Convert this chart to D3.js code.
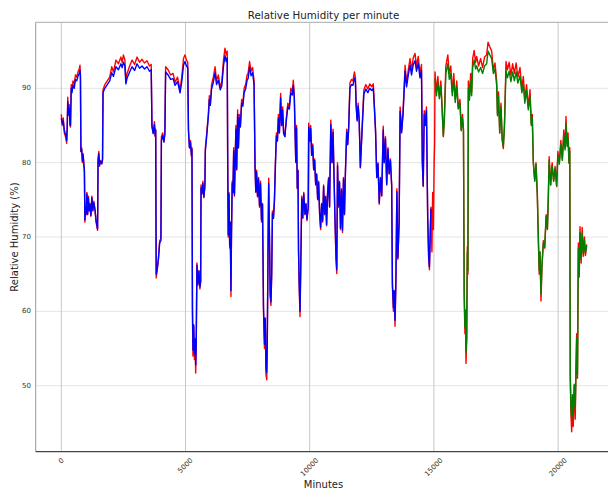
<!DOCTYPE html>
<html>
<head>
<meta charset="utf-8">
<script src="https://cdn.jsdelivr.net/npm/d3@7"></script>
<style>
  html, body { margin: 0; padding: 0; background: #fff; }
  svg { display: block; font-family: "DejaVu Sans", sans-serif; }
</style>
</head>
<body>
<svg id="chart" width="608" height="489"></svg>
<script>
// Sample times (minutes) shared by the measured and predicted series
const minute = [
  0,40,80,120,170,217,240,260,290,320,350,370,400,430,470,520,570,620,680,720,753,770,790,820,850,880,910,930,950,980,
  1000,1030,1060,1090,1120,1150,1190,1230,1270,1310,1360,1400,1460,1480,1510,1540,1580,1630,1660,1680,1750,1850,1950,2030,2100,2200,2300,2400,2450,2500,
  2560,2600,2650,2750,2850,2950,3050,3150,3250,3350,3450,3550,3620,3650,3700,3750,3780,3800,3820,3860,3910,3960,4010,4030,4080,4130,4170,4200,4300,4400,
  4500,4580,4680,4780,4850,4920,4980,5040,5090,5120,5160,5200,5240,5260,5280,5300,5330,5360,5390,5410,5430,5460,5500,5540,5580,5610,5625,5660,5700,5740,
  5780,5800,5850,5920,5960,6000,6050,6120,6190,6250,6320,6400,6460,6530,6590,6640,6680,6700,6720,6750,6780,6800,6830,6850,6880,6910,6940,6970,7000,7030,
  7060,7100,7130,7170,7210,7260,7310,7360,7420,7480,7520,7580,7640,7700,7760,7800,7830,7860,7900,7940,7980,8020,8060,8100,8140,8180,8210,8240,8270,8290,
  8330,8350,8380,8410,8440,8470,8500,8540,8580,8620,8660,8700,8740,8780,8830,8870,8910,8950,9000,9060,9120,9180,9240,9300,9340,9380,9410,9440,9470,9500,
  9530,9550,9580,9610,9640,9680,9720,9760,9810,9850,9890,9940,9960,10000,10040,10080,10120,10160,10200,10240,10280,10320,10360,10400,10440,10480,10520,10560,10600,10640,
  10680,10720,10760,10800,10850,10900,10940,10980,11020,11060,11090,11120,11160,11200,11240,11280,11320,11360,11400,11440,11490,11530,11570,11620,11680,11740,11800,11840,11870,11910,
  11950,11990,12040,12100,12180,12260,12340,12420,12500,12560,12600,12650,12700,12750,12800,12850,12900,12960,13000,13050,13100,13150,13200,13250,13300,13330,13370,13400,13435,13470,
  13510,13550,13600,13640,13700,13760,13840,13900,13970,14040,14100,14170,14240,14300,14370,14440,14500,14535,14570,14610,14650,14700,14750,14790,14820,14850,14880,14920,14950,14980,
  15010,15030,15045,15100,15160,15220,15280,15330,15380,15420,15480,15560,15620,15680,15740,15800,15860,15920,15980,16050,16100,16150,16190,16220,16250,16270,16292,16320,16346,16370,
  16386,16430,16480,16520,16561,16620,16680,16722,16800,16880,16960,17040,17124,17180,17250,17326,17393,17460,17527,17560,17600,17650,17700,17750,17795,17840,17903,17960,18030,18100,
  18170,18240,18310,18380,18466,18540,18600,18660,18730,18800,18869,18920,18960,19003,19060,19110,19164,19205,19240,19270,19312,19350,19406,19460,19520,19570,19607,19640,19700,19760,
  19820,19880,19942,19990,20050,20110,20170,20230,20280,20318,20360,20400,20440,20470,20490,20520,20546,20580,20610,20650,20690,20720,20748,20780,20815,20850,20882,20930,20970,21016,
  21060,21100,21150
];

// Measured relative humidity (%)
const actual = [
  86.5,85.0,86.0,84.0,83.5,82.6,85.0,88.8,86.5,87.8,85.0,84.8,90.5,89.8,91.0,90.5,91.8,91.5,92.3,92.6,93.1,92.0,81.5,82.0,80.0,81.2,79.5,78.8,72.0,74.0,
  73.0,76.0,73.0,75.5,73.5,74.5,72.8,75.5,73.5,74.8,73.5,72.0,70.9,80.5,81.5,79.5,80.3,79.8,80.5,89.8,90.5,91.0,91.5,92.9,92.2,93.8,93.3,94.2,93.5,94.5,
  93.8,91.0,92.0,93.0,93.8,93.2,94.2,93.5,93.9,93.4,93.7,93.0,93.2,85.0,84.0,85.5,83.5,84.5,64.5,65.5,67.0,69.5,69.8,83.5,84.0,82.8,84.2,92.9,92.5,91.8,
  92.0,90.8,91.5,89.8,91.5,94.0,94.5,93.8,93.5,84.5,82.0,83.0,80.8,82.0,60.0,54.0,58.0,53.5,56.0,51.7,55.0,66.5,63.5,65.5,63.0,64.0,77.0,75.8,77.5,75.3,
  77.0,82.0,83.8,86.5,89.0,88.0,90.5,91.5,92.9,91.0,91.8,90.2,90.8,93.8,95.4,94.5,95.0,79.5,70.0,76.0,68.5,72.0,62.0,70.0,77.5,76.0,82.0,75.5,80.5,85.0,
  79.0,87.1,82.0,86.5,85.0,88.5,88.0,90.0,90.5,91.8,92.0,93.6,92.3,92.8,91.0,79.5,76.0,79.0,75.4,78.0,74.0,77.5,72.0,74.5,60.0,55.0,59.0,51.5,50.8,55.0,
  71.5,77.9,70.0,62.0,60.8,65.0,73.5,72.5,75.0,80.0,84.0,83.0,86.5,84.0,89.3,85.0,87.5,84.0,83.5,86.0,88.0,87.5,90.0,89.5,91.1,89.0,84.5,80.0,85.0,76.5,
  79.0,68.0,63.0,59.3,66.0,75.5,72.5,76.0,73.0,74.5,72.2,74.0,85.3,83.0,85.0,81.0,82.5,79.0,80.5,77.0,78.5,75.0,77.5,73.0,71.0,74.5,72.0,77.0,73.0,75.5,
  71.5,76.0,78.0,74.0,85.7,80.0,84.5,78.0,72.0,67.0,65.1,80.0,74.0,77.5,71.0,76.5,70.6,78.0,73.0,79.0,84.5,82.5,85.0,90.7,91.2,91.0,92.2,91.5,87.9,85.8,
  88.0,86.0,79.3,84.0,89.8,90.5,89.9,90.6,90.2,90.6,87.9,84.5,78.0,80.0,74.4,78.0,75.5,84.9,80.0,83.5,77.0,82.0,78.5,80.5,76.9,63.3,60.0,62.5,58.0,64.0,
  76.5,67.0,72.0,87.5,84.2,87.0,93.1,90.7,92.5,94.0,92.5,94.1,94.7,93.0,94.3,92.0,93.2,80.0,76.8,87.0,85.3,87.5,72.7,67.0,65.6,70.0,74.0,68.0,76.0,71.0,
  80.0,82.6,92.2,89.5,91.6,88.9,91.0,87.5,83.5,86.0,93.0,94.5,92.0,93.0,89.5,92.0,88.5,91.0,87.5,88.5,84.4,86.5,84.5,62.0,57.0,60.0,53.0,56.0,68.7,65.0,
  91.0,88.9,92.0,89.5,94.0,95.1,93.5,94.3,93.0,94.0,92.8,94.2,94.5,96.2,95.6,95.0,92.5,93.4,91.0,86.5,89.5,84.0,88.0,83.0,81.9,85.0,93.6,92.5,93.5,91.8,
  93.3,92.0,93.4,91.5,92.8,90.0,91.6,88.5,90.5,87.5,89.8,85.2,86.5,80.0,77.5,80.0,75.5,69.6,65.0,68.0,61.4,66.0,69.5,68.5,73.0,71.0,75.6,80.8,77.0,80.0,
  77.5,79.5,76.8,81.5,80.0,83.0,80.5,84.4,82.0,86.2,82.5,84.0,79.9,82.0,50.8,46.0,43.8,48.5,44.5,50.0,45.5,52.0,57.0,51.0,69.2,64.6,71.4,66.5,71.3,67.4,
  70.0,67.5,69.0
];

// Model output (%): training window before minute 15000, test window after it
const predicted = [
  86.0,85.2,85.6,84.4,83.8,83.0,85.0,88.2,86.4,87.3,85.2,85.0,90.0,89.4,90.4,90.0,91.2,91.0,91.7,92.0,92.4,91.6,81.5,81.8,80.2,81.0,79.7,79.0,72.3,74.0,
  73.1,75.8,73.1,75.3,73.6,74.4,72.9,75.3,73.6,74.6,73.6,72.2,71.1,80.2,81.2,79.7,80.2,79.9,80.3,89.4,90.0,90.5,91.0,92.1,91.6,92.9,92.5,93.3,92.8,93.5,
  93.0,90.6,91.4,92.2,92.9,92.4,93.3,92.7,93.0,92.6,92.9,92.3,92.5,84.8,83.9,85.1,83.6,84.3,65.0,65.7,67.1,69.2,69.5,83.0,83.6,82.8,83.8,92.2,91.8,91.2,
  91.3,90.4,90.9,89.4,90.9,93.1,93.6,93.0,92.8,84.2,82.0,82.8,81.0,81.8,60.5,54.8,58.2,54.3,56.3,52.8,55.3,66.2,63.7,65.4,63.3,64.1,76.6,75.8,77.2,75.4,
  76.8,81.6,83.4,86.2,88.5,87.7,89.9,90.8,92.1,90.5,91.1,89.8,90.3,93.0,94.4,93.6,94.1,79.5,70.3,75.8,68.8,72.0,62.8,70.0,77.2,76.0,81.6,75.7,80.2,84.5,
  79.1,86.5,82.0,86.0,84.8,88.0,87.6,89.4,89.9,91.1,91.3,92.8,91.7,92.1,90.5,79.5,76.1,78.8,75.5,77.8,74.2,77.2,72.3,74.4,60.6,55.6,59.1,52.4,51.8,55.4,
  71.0,77.2,70.2,62.4,61.3,65.0,73.2,72.5,74.8,79.7,83.6,82.9,86.0,84.0,88.7,85.0,87.1,84.0,83.5,85.7,87.5,87.2,89.4,89.1,90.4,88.7,84.4,80.1,84.7,76.6,
  78.9,68.3,63.5,60.0,66.0,75.2,72.6,75.8,73.1,74.4,72.4,74.0,84.8,82.9,84.6,81.0,82.3,79.1,80.3,77.1,78.4,75.1,77.3,73.2,71.3,74.4,72.2,76.8,73.1,75.4,
  71.7,75.8,77.8,74.1,85.1,80.0,84.1,78.1,72.2,67.3,65.6,79.6,74.2,77.3,71.2,76.3,70.9,77.8,73.1,78.8,84.1,82.4,84.6,90.0,90.5,90.4,91.4,90.9,87.6,85.6,
  87.6,85.8,79.4,83.7,89.2,89.9,89.4,90.0,89.7,90.0,87.6,84.3,78.0,79.8,74.6,77.9,75.6,84.4,80.0,83.2,77.1,81.8,78.5,80.3,77.0,63.7,60.5,62.8,58.8,64.1,
  76.1,67.2,71.9,86.9,84.0,86.6,92.3,90.2,91.8,93.1,91.8,93.2,93.7,92.3,93.4,91.4,92.4,80.0,76.9,86.5,85.0,87.0,72.8,67.3,66.0,70.0,73.8,null,null,null,
  null,null,91.3,89.0,90.8,88.6,90.3,87.2,83.6,85.6,92.0,93.3,91.2,92.0,89.0,91.1,88.1,90.2,87.2,88.0,84.3,86.0,84.3,62.5,57.8,60.2,54.5,56.5,68.0,65.5,
  90.0,88.4,91.0,89.0,92.8,93.8,92.6,93.0,92.2,92.8,92.0,93.0,93.3,95.0,94.5,94.0,92.0,92.6,90.4,86.3,89.0,84.0,87.5,83.2,82.2,84.8,92.4,91.4,92.3,90.9,
  92.2,91.0,92.2,90.7,91.7,89.4,90.6,88.0,89.7,87.1,89.0,85.0,86.1,80.0,77.6,79.8,75.8,69.9,65.5,68.0,62.3,66.1,69.2,68.6,72.8,71.1,75.3,80.3,77.0,79.6,
  77.5,79.2,76.9,81.0,79.8,82.4,80.3,83.7,81.7,85.2,82.2,83.3,80.0,81.5,51.5,47.0,45.5,48.8,46.0,50.2,47.0,52.0,56.5,51.5,68.5,65.0,70.6,67.0,70.5,67.8,
  69.6,67.8,68.8
];

const splitMinute = 15000;
const xTicks = [0, 5000, 10000, 15000, 20000];
const yTicks = [50, 60, 70, 80, 90];

const svg = d3.select("#chart");
const plot = { left: 35.7, top: 22.3, bottom: 451.7, right: 612 };

const x = d3.scaleLinear().domain([-1030.6, 22170]).range([plot.left, plot.right]);
const y = d3.scaleLinear().domain([41.12, 98.88]).range([plot.bottom, plot.top]);

const rows = minute.map((m, i) => ({ m, a: actual[i], p: predicted[i] }));

// grid
svg.append("g").selectAll("line").data(yTicks).join("line")
  .attr("x1", plot.left).attr("x2", 608)
  .attr("y1", d => y(d)).attr("y2", d => y(d))
  .attr("stroke", "#e4e4e4").attr("stroke-width", 1);
svg.append("g").selectAll("line").data(xTicks).join("line")
  .attr("x1", d => x(d)).attr("x2", d => x(d))
  .attr("y1", plot.top).attr("y2", plot.bottom)
  .attr("stroke", "#c8c8c8").attr("stroke-width", 1);

// series
const line = d3.line().x(d => x(d.m)).y(d => y(d.a));
const predLine = d3.line().defined(d => d.p != null).x(d => x(d.m)).y(d => y(d.p));

svg.append("path").datum(rows)
  .attr("d", line).attr("fill", "none")
  .attr("stroke", "#ff0000").attr("stroke-width", 1.4).attr("stroke-linejoin", "round");

svg.append("path").datum(rows.filter(d => d.m < splitMinute))
  .attr("d", predLine).attr("fill", "none")
  .attr("stroke", "#0000ff").attr("stroke-width", 1.4).attr("stroke-linejoin", "round");

svg.append("path").datum(rows.filter(d => d.m > splitMinute))
  .attr("d", predLine).attr("fill", "none")
  .attr("stroke", "#008000").attr("stroke-width", 1.4).attr("stroke-linejoin", "round");

// frame
svg.append("line").attr("x1", plot.left).attr("x2", 608).attr("y1", plot.top).attr("y2", plot.top)
  .attr("stroke", "#aaaaaa").attr("stroke-width", 1);
svg.append("line").attr("x1", plot.left).attr("x2", plot.left).attr("y1", plot.top).attr("y2", plot.bottom)
  .attr("stroke", "#999999").attr("stroke-width", 1);
svg.append("line").attr("x1", plot.left).attr("x2", 608).attr("y1", plot.bottom).attr("y2", plot.bottom)
  .attr("stroke", "#444444").attr("stroke-width", 1.3);

// y tick labels
svg.append("g").selectAll("text").data(yTicks).join("text")
  .attr("x", 31).attr("y", d => y(d))
  .attr("text-anchor", "end").attr("dominant-baseline", "central")
  .attr("font-size", 7).attr("fill", "#333")
  .text(d => d);

// x tick labels, rotated 45°
const fmt = d3.format("d");
const xl = svg.append("g").selectAll("text").data(xTicks).join("text")
  .attr("text-anchor", "middle").attr("dominant-baseline", "central")
  .attr("font-size", 7).attr("fill", "#333")
  .text(d => fmt(d));
xl.each(function(d) {
  const len = this.getComputedTextLength();
  const h = (len + 7) * Math.SQRT1_2;
  d3.select(this).attr("transform", `translate(${x(d)},${457 + h / 2}) rotate(-45)`);
});

// titles
svg.append("text").attr("x", 323.5).attr("y", 18.6)
  .attr("text-anchor", "middle").attr("font-size", 10.3).attr("fill", "#222")
  .text("Relative Humidity per minute");
svg.append("text").attr("x", 323.5).attr("y", 487.5)
  .attr("text-anchor", "middle").attr("font-size", 10).attr("fill", "#222")
  .text("Minutes");
svg.append("text")
  .attr("transform", `translate(17.5,${(plot.top + plot.bottom) / 2}) rotate(-90)`)
  .attr("text-anchor", "middle").attr("font-size", 10).attr("fill", "#222")
  .text("Relative Humidity (%)");
</script>
</body>
</html>
